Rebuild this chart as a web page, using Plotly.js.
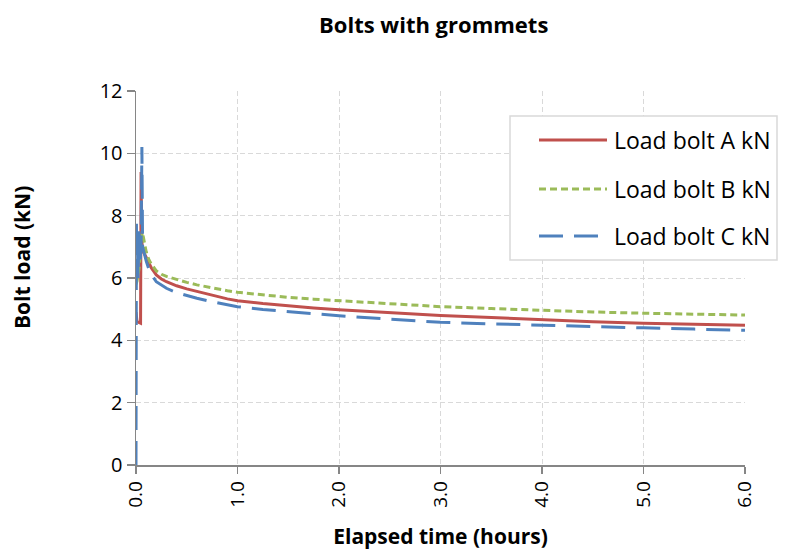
<!DOCTYPE html>
<html>
<head>
<meta charset="utf-8">
<script src="https://cdn.plot.ly/plotly-3.0.1.min.js"></script>
<style>html,body{margin:0;padding:0;background:#fff;}#chart{width:790px;height:553px;}</style>
</head>
<body>
<div id="chart"></div>
<script>
// Elapsed time (hours) and bolt loads (kN)
var timeA = [0, 0.01, 0.045, 0.05, 0.056, 0.065, 0.08, 0.1, 0.125, 0.15, 0.2, 0.25, 0.3, 0.4, 0.5, 0.6, 0.75, 0.9, 1.0, 1.25, 1.5, 1.75, 2.0, 2.5, 3.0, 3.5, 4.0, 4.5, 5.0, 5.5, 6.0];
var loadA = [4.9, 4.6, 4.55, 9.4, 7.2, 6.95, 6.8, 6.66, 6.48, 6.33, 6.1, 5.97, 5.88, 5.75, 5.65, 5.56, 5.45, 5.33, 5.27, 5.18, 5.1, 5.04, 4.98, 4.88, 4.8, 4.73, 4.66, 4.6, 4.55, 4.51, 4.48];

var timeB = [0, 0.01, 0.03, 0.05, 0.06, 0.07, 0.08, 0.1, 0.125, 0.15, 0.2, 0.25, 0.3, 0.4, 0.5, 0.6, 0.75, 0.9, 1.0, 1.25, 1.5, 1.75, 2.0, 2.5, 3.0, 3.5, 4.0, 4.5, 5.0, 5.5, 6.0];
var loadB = [5.8, 5.9, 6.3, 7.0, 7.45, 7.35, 7.2, 6.85, 6.6, 6.45, 6.23, 6.12, 6.05, 5.95, 5.86, 5.78, 5.68, 5.59, 5.54, 5.45, 5.38, 5.32, 5.27, 5.17, 5.08, 5.02, 4.96, 4.91, 4.87, 4.84, 4.81];

var timeC = [0, 0.004, 0.008, 0.012, 0.02, 0.03, 0.04, 0.05, 0.058, 0.065, 0.08, 0.1, 0.125, 0.15, 0.2, 0.25, 0.3, 0.4, 0.5, 0.6, 0.75, 0.9, 1.0, 1.25, 1.5, 1.75, 2.0, 2.5, 3.0, 3.5, 4.0, 4.5, 5.0, 5.5, 6.0];
var loadC = [0, 7.8, 6.2, 7.4, 6.0, 7.5, 6.5, 7.0, 10.2, 7.0, 6.8, 6.55, 6.3, 6.12, 5.88, 5.76, 5.67, 5.53, 5.43, 5.35, 5.24, 5.14, 5.08, 4.99, 4.92, 4.85, 4.79, 4.68, 4.58, 4.53, 4.48, 4.44, 4.4, 4.36, 4.32];

var seriesNames = ['Load bolt A kN', 'Load bolt B kN', 'Load bolt C kN'];
var xTicks = [0, 1, 2, 3, 4, 5, 6];
var yTicks = [0, 2, 4, 6, 8, 10, 12];

var colors = ['#C0504D', '#9BBB59', '#4F81BD'];
var dashes = ['solid', '7px,4px', '24px,11px'];
var FONT = 'Open Sans, sans-serif';

var traces = [
  {x: timeA, y: loadA, name: seriesNames[0], type: 'scatter', mode: 'lines', line: {color: colors[0], width: 3, dash: dashes[0]}},
  {x: timeB, y: loadB, name: seriesNames[1], type: 'scatter', mode: 'lines', line: {color: colors[1], width: 3, dash: dashes[1]}},
  {x: timeC, y: loadC, name: seriesNames[2], type: 'scatter', mode: 'lines', line: {color: colors[2], width: 3, dash: dashes[2]}}
];

// custom legend (box, line samples, labels) in paper coordinates
var plotL = 136, plotT = 91, plotW = 609, plotH = 374;
function px(xp) { return (xp - plotL) / plotW; }
function py(yp) { return 1 - (yp - plotT) / plotH; }
var shapes = [{type: 'rect', xref: 'paper', yref: 'paper', x0: px(510), x1: px(777), y0: py(116), y1: py(260),
  line: {color: '#D9D9D9', width: 1.5}, fillcolor: 'rgba(255,255,255,1)', layer: 'above'}];
var annotations = [];
var rowY = [140, 189, 236];
for (var i = 0; i < 3; i++) {
  shapes.push({type: 'line', xref: 'paper', yref: 'paper', x0: px(539), x1: px(607), y0: py(rowY[i]), y1: py(rowY[i]),
    line: {color: colors[i], width: 3, dash: dashes[i]}, layer: 'above'});
  annotations.push({xref: 'paper', yref: 'paper', x: px(612), y: py(rowY[i]), xanchor: 'left', yanchor: 'middle',
    text: seriesNames[i], showarrow: false, font: {family: FONT, size: 23, color: '#000'}});
}
// y-axis title placed like the reference (centred a little above the plot centre)
annotations.push({xref: 'paper', yref: 'paper', x: px(22), y: py(258), xanchor: 'center', yanchor: 'middle',
  textangle: -90, text: '<b>Bolt load (kN)</b>', showarrow: false, font: {family: FONT, size: 21, color: '#000'}});

var layout = {
  width: 790, height: 553,
  margin: {l: 136, r: 45, t: 91, b: 88},
  paper_bgcolor: '#fff', plot_bgcolor: '#fff',
  showlegend: false,
  title: {text: '<b>Bolts with grommets</b>', x: 0.549, xanchor: 'center', y: 0.955, yanchor: 'middle',
    font: {family: FONT, size: 22, color: '#000'}},
  xaxis: {
    range: [0, 6], tickvals: xTicks, tickformat: '.1f', tickangle: -90,
    showgrid: true, gridcolor: '#D9D9D9', griddash: '5px,3px', gridwidth: 1,
    showline: true, linecolor: '#868686', linewidth: 1.5,
    ticks: 'outside', ticklen: 7, tickcolor: '#868686', tickwidth: 1.5,
    zeroline: false, layer: 'below traces',
    tickfont: {family: FONT, size: 19, color: '#000'},
    title: {text: '<b>Elapsed time (hours)</b>', font: {family: FONT, size: 21, color: '#000'}, standoff: 22}
  },
  yaxis: {
    range: [0, 12], tickvals: yTicks,
    showgrid: true, gridcolor: '#D9D9D9', griddash: '5px,3px', gridwidth: 1,
    showline: true, linecolor: '#868686', linewidth: 1.5,
    ticks: 'outside', ticklen: 8, tickcolor: '#868686', tickwidth: 1.5,
    zeroline: false, layer: 'below traces',
    tickfont: {family: FONT, size: 20, color: '#000'}
  },
  shapes: shapes,
  annotations: annotations
};

Plotly.newPlot('chart', traces, layout, {displayModeBar: false, staticPlot: true});
</script>
</body>
</html>
